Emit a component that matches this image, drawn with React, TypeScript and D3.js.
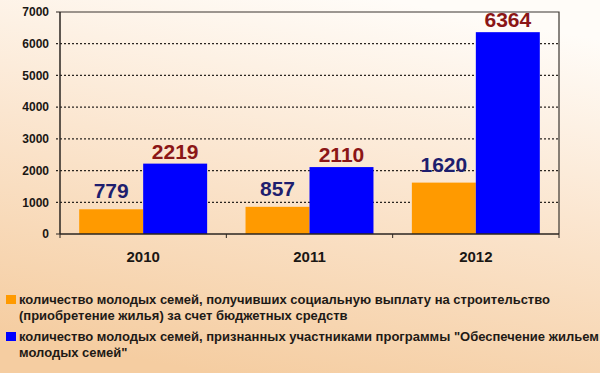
import { useEffect, useRef } from "react";
import * as d3 from "d3";

const years = ["2010", "2011", "2012"];
const seriesKeys = ["paid", "participants"];
const paidValues = [779, 857, 1620];
const participantValues = [2219, 2110, 6364];
const yTicks = [0, 1000, 2000, 3000, 4000, 5000, 6000, 7000];
const legendLines = [
  ["количество молодых семей, получивших социальную выплату на строительство", "(приобретение жилья) за счет бюджетных средств"],
  ["количество молодых семей, признанных участниками программы \"Обеспечение жильем", "молодых семей\""],
];

const colors = ["#ff9a00", "#0000ff"];
const labelColors = ["#1e1e6e", "#8b1616"];
const font = "'Liberation Sans', Arial, sans-serif";

const Chart = () => {
  const svgRef = useRef<SVGSVGElement>(null);

  useEffect(() => {
    const width = 600, height = 373;
    const left = 60, right = 559, top = 12, bottom = 234;

    const root = d3.select(svgRef.current);
    root.selectAll("*").remove();
    const svg = root.attr("width", width).attr("height", height);

    const defs = svg.append("defs");
    const grad = defs.append("linearGradient")
      .attr("id", "bg")
      .attr("x1", 0.65).attr("y1", 0).attr("x2", 0.35).attr("y2", 1);
    grad.append("stop").attr("offset", 0).attr("stop-color", "#fffcf8");
    grad.append("stop").attr("offset", 0.45).attr("stop-color", "#fbe6d0");
    grad.append("stop").attr("offset", 1).attr("stop-color", "#f5cda1");

    svg.append("rect").attr("width", width).attr("height", height).attr("fill", "url(#bg)");

    const x = d3.scaleBand<string>().domain(years).range([left, right]).padding(0);
    const xInner = d3.scaleBand<string>().domain(seriesKeys).range([0, x.bandwidth()])
      .paddingInner(0).paddingOuter(0.3);
    const y = d3.scaleLinear().domain([0, 7000]).range([bottom, top]);

    // grid
    svg.append("g")
      .selectAll("line")
      .data(yTicks.filter(t => t > 0 && t < 7000))
      .join("line")
      .attr("x1", left - 4).attr("x2", right)
      .attr("y1", d => y(d)).attr("y2", d => y(d))
      .attr("stroke", "#2a2520").attr("stroke-width", 1.2)
      .attr("stroke-dasharray", "2,2");

    // frame top and right
    svg.append("path")
      .attr("d", `M${left},${y(7000)}H${right}V${bottom}`)
      .attr("fill", "none").attr("stroke", "#3a3530").attr("stroke-width", 1.2);

    const rows = years.map((yr, i) => ({ yr, vals: [paidValues[i], participantValues[i]] }));

    const groups = svg.append("g").selectAll("g")
      .data(rows)
      .join("g")
      .attr("transform", d => `translate(${x(d.yr)},0)`);

    groups.selectAll("rect")
      .data(d => d.vals.map((v, k) => ({ v, k })))
      .join("rect")
      .attr("x", d => xInner(seriesKeys[d.k])!)
      .attr("width", xInner.bandwidth())
      .attr("y", d => y(d.v))
      .attr("height", d => y(0) - y(d.v))
      .attr("fill", d => colors[d.k]);

    groups.selectAll("text")
      .data(d => d.vals.map((v, k) => ({ v, k })))
      .join("text")
      .attr("x", d => xInner(seriesKeys[d.k])! + xInner.bandwidth() / 2)
      .attr("y", d => y(d.v) - (d.k === 0 ? 11 : 5))
      .attr("text-anchor", "middle")
      .attr("font-family", font).attr("font-weight", "bold").attr("font-size", 21)
      .attr("fill", d => labelColors[d.k])
      .text(d => d.v);

    // axes
    const yAxis = svg.append("g");
    yAxis.append("line")
      .attr("x1", left).attr("x2", left).attr("y1", top).attr("y2", bottom)
      .attr("stroke", "#2a2520").attr("stroke-width", 1.5);
    yAxis.selectAll("line.tick")
      .data([0, 7000])
      .join("line")
      .attr("class", "tick")
      .attr("x1", left - 4).attr("x2", left)
      .attr("y1", d => y(d)).attr("y2", d => y(d))
      .attr("stroke", "#2a2520");
    yAxis.selectAll("text")
      .data(yTicks)
      .join("text")
      .attr("x", left - 11).attr("y", d => y(d))
      .attr("dy", "0.36em")
      .attr("text-anchor", "end")
      .attr("font-family", font).attr("font-weight", "bold").attr("font-size", 12)
      .attr("fill", "#1a1714")
      .text(d => d);

    const xAxis = svg.append("g");
    xAxis.append("line")
      .attr("x1", left).attr("x2", right).attr("y1", bottom).attr("y2", bottom)
      .attr("stroke", "#2a2520").attr("stroke-width", 1.5);
    xAxis.selectAll("line.tick")
      .data([...years.map(d => x(d)!), right])
      .join("line")
      .attr("class", "tick")
      .attr("x1", d => d).attr("x2", d => d)
      .attr("y1", bottom).attr("y2", bottom + 4)
      .attr("stroke", "#2a2520");
    xAxis.selectAll("text")
      .data(years)
      .join("text")
      .attr("x", d => x(d)! + x.bandwidth() / 2).attr("y", 262)
      .attr("text-anchor", "middle")
      .attr("font-family", font).attr("font-weight", "bold").attr("font-size", 15)
      .attr("fill", "#1a1714")
      .text(d => d);

    // legend
    const legend = svg.append("g");
    const legendTop = [304, 341];
    legendLines.forEach((lines, i) => {
      legend.append("rect")
        .attr("x", 6).attr("y", legendTop[i] - 9)
        .attr("width", 10).attr("height", 9)
        .attr("fill", colors[i]);
      lines.forEach((line, j) => {
        legend.append("text")
          .attr("x", 19).attr("y", legendTop[i] + j * 16)
          .attr("font-family", font).attr("font-weight", "bold").attr("font-size", 13)
          .attr("fill", "#1e1a16")
          .text(line);
      });
    });
  }, []);

  return <svg ref={svgRef} style={{ position: "absolute", left: 0, top: 0, display: "block" }} />;
};

export default function App() {
  return <Chart />;
}
